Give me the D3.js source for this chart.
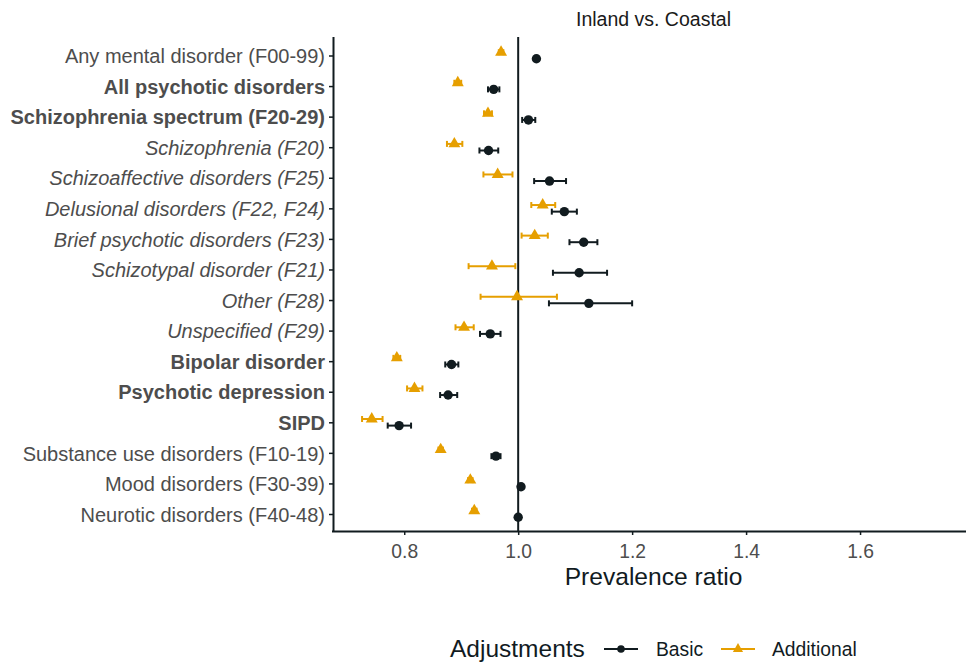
<!DOCTYPE html>
<html>
<head>
<meta charset="utf-8">
<script src="https://cdn.jsdelivr.net/npm/d3@7"></script>
<style>
  html, body { margin: 0; padding: 0; background: #fff; }
  svg { display: block; font-family: "Liberation Sans", Arial, Helvetica, sans-serif; }
</style>
</head>
<body>
<svg id="chart" width="966" height="662"></svg>
<script>
// Outcome categories, top to bottom
const categories = [
  "Any mental disorder (F00-99)",
  "All psychotic disorders",
  "Schizophrenia spectrum (F20-29)",
  "Schizophrenia (F20)",
  "Schizoaffective disorders (F25)",
  "Delusional disorders (F22, F24)",
  "Brief psychotic disorders (F23)",
  "Schizotypal disorder (F21)",
  "Other (F28)",
  "Unspecified (F29)",
  "Bipolar disorder",
  "Psychotic depression",
  "SIPD",
  "Substance use disorders (F10-19)",
  "Mood disorders (F30-39)",
  "Neurotic disorders (F40-48)"
];
// Label style per category: n = normal, b = bold, i = italic
const labelStyle = ["n","b","b","i","i","i","i","i","i","i","b","b","b","n","n","n"];

// Basic adjustment: prevalence ratio and 95% CI
const basicPR  = [1.032, 0.957, 1.018, 0.948, 1.055, 1.081, 1.115, 1.107, 1.124, 0.951, 0.883, 0.877, 0.791, 0.961, 1.005, 1.000];
const basicLo  = [1.028, 0.947, 1.007, 0.932, 1.028, 1.059, 1.090, 1.061, 1.054, 0.933, 0.872, 0.863, 0.771, 0.953, 1.001, 0.996];
const basicHi  = [1.036, 0.967, 1.030, 0.965, 1.084, 1.103, 1.139, 1.156, 1.200, 0.969, 0.895, 0.893, 0.812, 0.969, 1.009, 1.004];

// Additional adjustment: prevalence ratio and 95% CI
const addPR    = [0.970, 0.894, 0.947, 0.888, 0.964, 1.043, 1.029, 0.954, 0.998, 0.905, 0.787, 0.818, 0.743, 0.864, 0.916, 0.923];
const addLo    = [0.966, 0.888, 0.940, 0.875, 0.939, 1.023, 1.006, 0.913, 0.934, 0.890, 0.781, 0.805, 0.726, 0.860, 0.912, 0.919];
const addHi    = [0.974, 0.900, 0.954, 0.902, 0.990, 1.065, 1.052, 0.995, 1.068, 0.922, 0.793, 0.832, 0.762, 0.868, 0.920, 0.927];

const xTicks = [0.8, 1.0, 1.2, 1.4, 1.6];
const seriesNames = ["Basic", "Additional"];
const facetTitle = "Inland vs. Coastal";

const colBasic = "#111b1f";
const colAdd = "#E69F00";

const svg = d3.select("#chart");

const panel = { left: 333, right: 974, top: 37, bottom: 531 };

const x = d3.scaleLinear().domain([0.675, 1.8]).range([panel.left, panel.right]);
const y = d3.scalePoint().domain(categories).range([55.5, 514]);

const dodge = 3.3;
const series = [
  { name: seriesNames[0], pr: basicPR, lo: basicLo, hi: basicHi, color: colBasic, dy: dodge, shape: "circle" },
  { name: seriesNames[1], pr: addPR, lo: addLo, hi: addHi, color: colAdd, dy: -dodge, shape: "triangle" }
];

// facet title
svg.append("text")
  .attr("x", (panel.left + panel.right) / 2)
  .attr("y", 26)
  .attr("text-anchor", "middle")
  .attr("font-size", 19.5)
  .attr("fill", "#1a1a1a")
  .text(facetTitle);

// reference line at PR = 1
svg.append("line")
  .attr("x1", x(1)).attr("x2", x(1))
  .attr("y1", panel.top).attr("y2", panel.bottom)
  .attr("stroke", colBasic).attr("stroke-width", 2);

// error bars and points
const triangle = d3.symbol().type(d3.symbolTriangle).size(62);
series.forEach(s => {
  const g = svg.append("g");
  categories.forEach((c, i) => {
    const yy = y(c) + s.dy;
    g.append("line")
      .attr("x1", x(s.lo[i])).attr("x2", x(s.hi[i]))
      .attr("y1", yy).attr("y2", yy)
      .attr("stroke", s.color).attr("stroke-width", 2);
    [s.lo[i], s.hi[i]].forEach(v => {
      g.append("line")
        .attr("x1", x(v)).attr("x2", x(v))
        .attr("y1", yy - 3).attr("y2", yy + 3)
        .attr("stroke", s.color).attr("stroke-width", 2);
    });
    if (s.shape === "circle") {
      g.append("circle").attr("cx", x(s.pr[i])).attr("cy", yy).attr("r", 4.7).attr("fill", s.color);
    } else {
      g.append("path").attr("d", triangle)
        .attr("transform", `translate(${x(s.pr[i])},${yy})`)
        .attr("fill", s.color);
    }
  });
});

// axes
const axisColor = "#111b1f";
const xAxis = svg.append("g")
  .attr("transform", `translate(0,${panel.bottom})`)
  .call(d3.axisBottom(x).tickValues(xTicks).tickFormat(d3.format(".1f")).tickSize(4).tickSizeOuter(0));
xAxis.select(".domain").attr("stroke", axisColor).attr("stroke-width", 2)
  .attr("d", `M${panel.left - 1},0.5H${panel.right}`);
xAxis.selectAll(".tick line").attr("stroke", axisColor).attr("stroke-width", 1.5);
xAxis.selectAll(".tick text")
  .attr("font-size", 19.3).attr("fill", "#4d4d4d").attr("font-family", null)
  .attr("y", 27).attr("dy", 0);

const yAxis = svg.append("g")
  .attr("transform", `translate(${panel.left},0)`)
  .call(d3.axisLeft(y).tickSize(4).tickSizeOuter(0));
yAxis.select(".domain").attr("stroke", axisColor).attr("stroke-width", 2)
  .attr("d", `M0.5,${panel.top}V${panel.bottom + 1}`);
yAxis.selectAll(".tick line").attr("stroke", axisColor).attr("stroke-width", 1.5);
yAxis.selectAll(".tick text")
  .attr("font-size", 20).attr("fill", "#4d4d4d").attr("font-family", null).attr("x", -8)
  .attr("dy", "0.36em")
  .attr("font-weight", (d, i) => labelStyle[i] === "b" ? "bold" : "normal")
  .attr("font-style", (d, i) => labelStyle[i] === "i" ? "italic" : "normal");

// x-axis title
svg.append("text")
  .attr("x", (panel.left + panel.right) / 2)
  .attr("y", 585)
  .attr("text-anchor", "middle")
  .attr("font-size", 24.6)
  .attr("fill", "#111b1f")
  .text("Prevalence ratio");

// legend
const lg = svg.append("g").attr("transform", "translate(0,657)");
lg.append("text").attr("x", 450).attr("y", 0).attr("font-size", 24.5).attr("fill", "#111b1f").text("Adjustments");
const keys = [
  { s: series[0], x0: 604, tx: 656 },
  { s: series[1], x0: 721, tx: 772 }
];
keys.forEach(k => {
  lg.append("line").attr("x1", k.x0).attr("x2", k.x0 + 34).attr("y1", -8).attr("y2", -8)
    .attr("stroke", k.s.color).attr("stroke-width", 2);
  if (k.s.shape === "circle") {
    lg.append("circle").attr("cx", k.x0 + 17).attr("cy", -8).attr("r", 3.8).attr("fill", k.s.color);
  } else {
    lg.append("path").attr("d", d3.symbol().type(d3.symbolTriangle).size(45))
      .attr("transform", `translate(${k.x0 + 17},-8)`).attr("fill", k.s.color);
  }
  lg.append("text").attr("x", k.tx).attr("y", -1).attr("font-size", 19.3).attr("fill", "#111b1f").text(k.s.name);
});
</script>
</body>
</html>
